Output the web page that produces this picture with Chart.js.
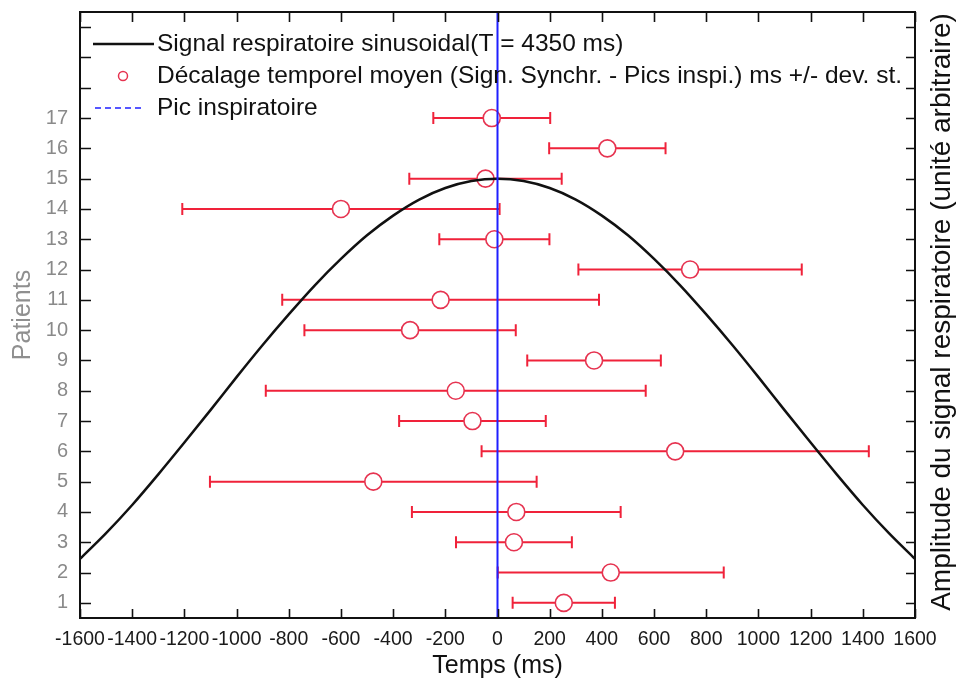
<!DOCTYPE html>
<html>
<head>
<meta charset="utf-8">
<script src="https://cdn.jsdelivr.net/npm/chart.js@4.4.1/dist/chart.umd.min.js"></script>
<style>
  html, body { margin: 0; padding: 0; background: #ffffff; }
  #wrap { width: 960px; height: 688px; position: relative; }
</style>
</head>
<body>
<div id="wrap"><canvas id="c" width="960" height="688"></canvas></div>
<script>
// ---- Data ----
const patients      = [1, 2, 3, 4, 5, 6, 7, 8, 9, 10, 11, 12, 13, 14, 15, 16, 17];
const meanOffsets   = [254, 434, 63, 72, -476, 681, -96, -160, 370, -335, -218, 738, -12, -600, -46, 421, -22];
const stdDevs       = [196, 433, 222, 400, 626, 742, 281, 728, 256, 405, 607, 428, 211, 608, 292, 223, 224];

const sineTimes = [-1600, -1500, -1400, -1300, -1200, -1100, -1000, -900, -800, -700, -600, -500, -400, -300, -200, -100,
                   0, 100, 200, 300, 400, 500, 600, 700, 800, 900, 1000, 1100, 1200, 1300, 1400, 1500, 1600];
const sineAmps  = [2.45, 3.30, 4.23, 5.24, 6.29, 7.36, 8.45, 9.51, 10.52, 11.48, 12.35, 13.13, 13.78, 14.31, 14.69, 14.92,
                   15.00, 14.92, 14.69, 14.31, 13.78, 13.13, 12.35, 11.48, 10.52, 9.51, 8.45, 7.36, 6.29, 5.24, 4.23, 3.30, 2.45];

const peakTime = 0;
const xTickValues = [-1600, -1400, -1200, -1000, -800, -600, -400, -200, 0, 200, 400, 600, 800, 1000, 1200, 1400, 1600];
const yTickValues = [1, 2, 3, 4, 5, 6, 7, 8, 9, 10, 11, 12, 13, 14, 15, 16, 17, 18, 19, 20];
const yTickLabels = ['1','2','3','4','5','6','7','8','9','10','11','12','13','14','15','16','17'];

const legendLabels = [
  'Signal respiratoire sinusoidal(T = 4350 ms)',
  'Décalage temporel moyen (Sign. Synchr. - Pics inspi.) ms +/- dev. st.',
  'Pic inspiratoire'
];
const xTitle = 'Temps (ms)';
const yTitle = 'Patients';
const y2Title = 'Amplitude du signal respiratoire (unité arbitraire)';

const FONT = "'Liberation Sans', Arial, Helvetica, sans-serif";
const RED_BAR = '#f0223a';
const RED_PT = '#e63350';
const BLUE = '#1f1fff';

// ---- Plugins ----
const errorBars = {
  id: 'errorBars',
  beforeDatasetsDraw(chart) {
    const {ctx, scales: {x, y}} = chart;
    ctx.save();
    ctx.strokeStyle = RED_BAR;
    ctx.lineWidth = 2;
    for (let i = 0; i < patients.length; i++) {
      const py = y.getPixelForValue(patients[i]);
      const x1 = x.getPixelForValue(meanOffsets[i] - stdDevs[i]);
      const x2 = x.getPixelForValue(meanOffsets[i] + stdDevs[i]);
      ctx.beginPath();
      ctx.moveTo(x1, py); ctx.lineTo(x2, py);
      ctx.moveTo(x1, py - 6); ctx.lineTo(x1, py + 6);
      ctx.moveTo(x2, py - 6); ctx.lineTo(x2, py + 6);
      ctx.stroke();
    }
    ctx.restore();
  }
};

const frame = {
  id: 'frame',
  afterDatasetsDraw(chart) {
    const {ctx, chartArea: a, scales: {x, y}} = chart;
    ctx.save();
    ctx.strokeStyle = '#111';
    ctx.lineWidth = 2;
    ctx.strokeRect(a.left, a.top, a.right - a.left, a.bottom - a.top);
    ctx.lineWidth = 1.6;
    ctx.beginPath();
    x.ticks.forEach(t => {
      const px = Math.round(x.getPixelForValue(t.value)) + 0.5;
      ctx.moveTo(px, a.bottom); ctx.lineTo(px, a.bottom - 9);
      ctx.moveTo(px, a.top); ctx.lineTo(px, a.top + 10);
    });
    y.ticks.forEach(t => {
      const py = Math.round(y.getPixelForValue(t.value)) + 0.5;
      ctx.moveTo(a.left, py); ctx.lineTo(a.left + 11, py);
      ctx.moveTo(a.right, py); ctx.lineTo(a.right - 9, py);
    });
    ctx.stroke();
    ctx.restore();
  },
  afterDraw(chart) {
    const {ctx, chartArea: a} = chart;
    ctx.save();
    // right axis title, reading bottom-to-top
    ctx.translate(942, (a.top + a.bottom) / 2 - 3);
    ctx.rotate(-Math.PI / 2);
    ctx.fillStyle = '#111';
    ctx.font = '28px ' + FONT;
    ctx.textAlign = 'center';
    ctx.textBaseline = 'middle';
    ctx.fillText(y2Title, 0, 0);
    ctx.restore();

    // legend inside the plot
    ctx.save();
    ctx.font = '24.5px ' + FONT;
    ctx.fillStyle = '#111';
    ctx.textAlign = 'left';
    ctx.textBaseline = 'middle';
    const rows = [44, 76, 108];
    ctx.strokeStyle = '#111'; ctx.lineWidth = 2.5;
    ctx.beginPath(); ctx.moveTo(93, rows[0]); ctx.lineTo(154, rows[0]); ctx.stroke();
    ctx.strokeStyle = RED_PT; ctx.lineWidth = 1.5;
    ctx.beginPath(); ctx.arc(123, rows[1], 4.5, 0, Math.PI * 2); ctx.stroke();
    ctx.strokeStyle = BLUE; ctx.lineWidth = 1.5; ctx.setLineDash([6, 4]);
    ctx.beginPath(); ctx.moveTo(95, rows[2]); ctx.lineTo(145, rows[2]); ctx.stroke();
    ctx.setLineDash([]);
    legendLabels.forEach((t, i) => ctx.fillText(t, 157, rows[i]));
    ctx.restore();
  }
};

// ---- Chart ----
new Chart(document.getElementById('c'), {
  type: 'scatter',
  data: {
    datasets: [
      {
        type: 'line',
        label: legendLabels[2],
        data: [{x: peakTime, y: 0.5}, {x: peakTime, y: 20.5}],
        borderColor: BLUE,
        borderWidth: 2,
        pointRadius: 0,
        order: 0
      },
      {
        type: 'line',
        label: legendLabels[0],
        data: sineTimes.map((t, i) => ({x: t, y: sineAmps[i]})),
        borderColor: '#111',
        borderWidth: 2.5,
        pointRadius: 0,
        cubicInterpolationMode: 'monotone',
        yAxisID: 'y2',
        order: 1
      },
      {
        label: legendLabels[1],
        data: patients.map((p, i) => ({x: meanOffsets[i], y: p})),
        pointRadius: 8.5,
        pointBackgroundColor: '#ffffff',
        pointBorderColor: RED_PT,
        pointBorderWidth: 1.6,
        order: 2
      }
    ]
  },
  options: {
    responsive: false,
    animation: false,
    devicePixelRatio: 1,
    layout: { padding: { top: 12, left: 0, right: 0, bottom: 0 } },
    plugins: { legend: { display: false }, tooltip: { enabled: false } },
    scales: {
      x: {
        type: 'linear',
        min: -1600, max: 1600,
        afterBuildTicks: s => { s.ticks = xTickValues.map(v => ({value: v})); },
        afterFit: s => { s.height = 70; },
        grid: { display: false },
        border: { display: false },
        ticks: {
          autoSkip: false, maxRotation: 0, padding: 2,
          color: '#1a1a1a',
          font: { family: FONT, size: 19.5 },
          callback: v => String(v)
        },
        title: {
          display: true, text: xTitle, color: '#111',
          font: { family: FONT, size: 25 },
          padding: { top: 0, bottom: 7 }
        }
      },
      y: {
        type: 'linear',
        position: 'left',
        min: 0.5, max: 20.5,
        afterBuildTicks: s => { s.ticks = yTickValues.map(v => ({value: v})); },
        afterFit: s => { s.width = 80; s.paddingTop = 0; s.paddingBottom = 0; },
        grid: { display: false },
        border: { display: false },
        ticks: {
          autoSkip: false, padding: 4,
          color: '#8a8a8a',
          font: { family: FONT, size: 20 },
          callback: v => (v >= 1 && v <= yTickLabels.length) ? yTickLabels[v - 1] : ''
        },
        title: {
          display: true, text: yTitle, color: '#8f8f8f',
          font: { family: FONT, size: 25 },
          padding: { top: 8, bottom: 0 }
        }
      },
      y2: {
        type: 'linear',
        position: 'right',
        min: 0.5, max: 20.5,
        afterFit: s => { s.width = 45; s.paddingTop = 0; s.paddingBottom = 0; },
        grid: { display: false },
        border: { display: false },
        ticks: { display: false }
      }
    }
  },
  plugins: [errorBars, frame]
});
</script>
</body>
</html>
